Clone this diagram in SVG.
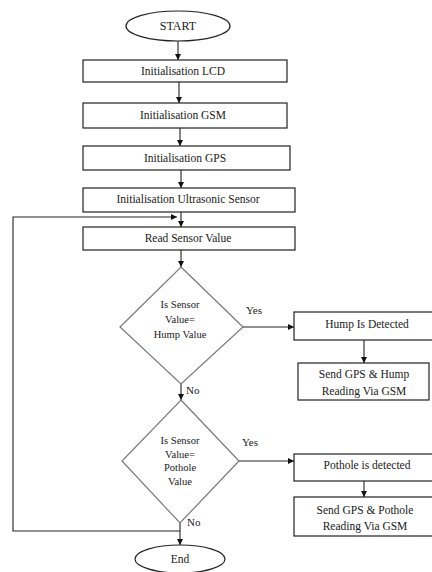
<svg xmlns="http://www.w3.org/2000/svg" width="432" height="572" viewBox="0 0 432 572">
<style>
.t{font-family:"Liberation Serif","Times New Roman",serif;font-size:11.5px;fill:#1a1a1a;text-anchor:middle}
.lb{font-family:"Liberation Serif","Times New Roman",serif;font-size:11px;fill:#1a1a1a}
.b{fill:#fff;stroke:#222;stroke-width:1.2}
.d{fill:#fff;stroke:#777;stroke-width:1.2}
.c{fill:none;stroke:#222;stroke-width:1.1}
</style>
<defs>
<marker id="ah" markerWidth="7" markerHeight="7" refX="6" refY="3.5" orient="auto" markerUnits="userSpaceOnUse">
<path d="M0,0.5 L6,3.5 L0,6.5 Z" fill="#111"/>
</marker>
</defs>
<rect width="432" height="572" fill="#fff"/>
<g id="connectors">
<line class="c" x1="178" y1="41" x2="178" y2="60" marker-end="url(#ah)"/>
<line class="c" x1="179" y1="82" x2="179" y2="103" marker-end="url(#ah)"/>
<line class="c" x1="180" y1="128" x2="180" y2="146" marker-end="url(#ah)"/>
<line class="c" x1="181" y1="170" x2="181" y2="188" marker-end="url(#ah)"/>
<line class="c" x1="181" y1="212" x2="181" y2="227" marker-end="url(#ah)"/>
<polyline class="c" points="180,531 13,531 13,217 177,217" marker-end="url(#ah)"/>
<line class="c" x1="181" y1="250" x2="181" y2="267" marker-end="url(#ah)"/>
<line class="c" x1="243" y1="327" x2="294" y2="327" marker-end="url(#ah)"/>
<line class="c" x1="364" y1="340" x2="364" y2="363" marker-end="url(#ah)"/>
<line class="c" x1="181" y1="384" x2="181" y2="400" marker-end="url(#ah)"/>
<line class="c" x1="239" y1="461" x2="294" y2="461" marker-end="url(#ah)"/>
<line class="c" x1="364" y1="481" x2="364" y2="497" marker-end="url(#ah)"/>
<line class="c" x1="180" y1="523" x2="180" y2="545" marker-end="url(#ah)"/>
<text class="lb" x="246" y="314">Yes</text>
<text class="lb" x="186" y="394">No</text>
<text class="lb" x="242" y="446">Yes</text>
<text class="lb" x="187" y="526">No</text>
</g>
<g id="start">
<ellipse class="b" cx="178" cy="26" rx="52" ry="15"/>
<text class="t" x="178" y="30" style="font-size:12px">START</text>
</g>
<g id="init-lcd">
<rect class="b" x="83" y="60" width="204" height="22"/>
<text class="t" x="183" y="75">Initialisation LCD</text>
</g>
<g id="init-gsm">
<rect class="b" x="83" y="103" width="204" height="25"/>
<text class="t" x="183" y="119">Initialisation GSM</text>
</g>
<g id="init-gps">
<rect class="b" x="83" y="146" width="207" height="24"/>
<text class="t" x="185" y="162">Initialisation GPS</text>
</g>
<g id="init-ultrasonic">
<rect class="b" x="83" y="188" width="212" height="24"/>
<text class="t" x="188" y="203">Initialisation Ultrasonic Sensor</text>
</g>
<g id="read-sensor">
<rect class="b" x="83" y="227" width="212" height="23"/>
<text class="t" x="188" y="242">Read Sensor Value</text>
</g>
<g id="decision-hump">
<polygon class="d" points="181,267 243,327 181,384 120,327"/>
<text class="t" x="180" y="308" style="font-size:10.5px">Is Sensor</text>
<text class="t" x="180" y="323" style="font-size:10.5px">Value=</text>
<text class="t" x="180" y="338" style="font-size:10.5px">Hump Value</text>
</g>
<g id="hump-detected">
<rect class="b" x="294" y="312" width="142" height="28"/>
<text class="t" x="367" y="328">Hump Is Detected</text>
</g>
<g id="send-hump">
<rect class="b" x="298" y="363" width="131" height="37"/>
<text class="t" x="364" y="378">Send GPS &amp; Hump</text>
<text class="t" x="364" y="395">Reading Via GSM</text>
</g>
<g id="decision-pothole">
<polygon class="d" points="181,400 239,461 180,523 122,461"/>
<text class="t" x="180" y="444" style="font-size:10.5px">Is Sensor</text>
<text class="t" x="180" y="458" style="font-size:10.5px">Value=</text>
<text class="t" x="180" y="471" style="font-size:10.5px">Pothole</text>
<text class="t" x="180" y="485" style="font-size:10.5px">Value</text>
</g>
<g id="pothole-detected">
<rect class="b" x="294" y="454" width="142" height="27"/>
<text class="t" x="367" y="469">Pothole is detected</text>
</g>
<g id="send-pothole">
<rect class="b" x="294" y="497" width="142" height="39"/>
<text class="t" x="365" y="514">Send GPS &amp; Pothole</text>
<text class="t" x="365" y="530">Reading Via GSM</text>
</g>
<g id="end">
<ellipse class="b" cx="180" cy="559" rx="45" ry="14"/>
<text class="t" x="180" y="563">End</text>
</g>
</svg>
